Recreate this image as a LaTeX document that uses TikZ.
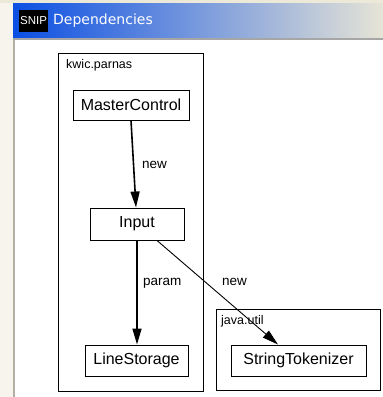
\documentclass[tikz,border=0pt]{standalone}
\usepackage{fontspec}
\setmainfont{Liberation Sans}
\newfontfamily\titlefont{DejaVu Sans}
\usetikzlibrary{arrows.meta}
\definecolor{xpbeige}{HTML}{ECE9D8}
\definecolor{xpgray}{HTML}{B3B0A3}
\definecolor{tbleft}{HTML}{0B4FE3}
\definecolor{tbmid}{HTML}{4C9CFB}
\definecolor{tbright}{HTML}{E6E4D6}
\tikzset{
  classbox/.style={draw=black, line width=1pt, inner sep=0pt, font=\fontsize{16}{19}\selectfont},
  cluster/.style={draw=black, line width=1pt, inner sep=0pt},
  clusterlabel/.style={anchor=west, inner sep=0pt, font=\fontsize{12.5}{15}\selectfont},
  edgelabel/.style={anchor=west, inner sep=0pt, font=\fontsize{13.5}{16}\selectfont},
  dep/.style={draw=black, line width=1.6pt, -{Triangle[length=16pt,width=9pt]}},
  depthin/.style={draw=black, line width=0.9pt, -{Triangle[length=16pt,width=9pt]}}
}
\begin{document}
\begin{tikzpicture}[x=1pt,y=-1pt]
\useasboundingbox (0,0) rectangle (383,397);
% window background
\fill[white] (0,0) rectangle (383,397);
\fill[xpbeige] (0,0) rectangle (383,3);
\fill[white!50!xpbeige] (0,3) rectangle (13,397);
\fill[xpgray] (13,38) rectangle (15,397);
% title bar
\shade[left color=tbleft, middle color=tbmid, right color=tbright] (13,3) rectangle (383,38);
\fill[gray!70] (13,38) rectangle (383,39.5);
\node[fill=black, text=white, minimum width=29pt, minimum height=22pt, inner sep=0pt,
      font=\fontsize{11.5}{13}\selectfont] (snip) at (33.5,21) {SNIP};
\node[anchor=west, inner sep=0pt, text=white, font=\titlefont\fontsize{14}{17}\selectfont]
      (title) at (53,21) {Dependencies};
% clusters
\node[cluster, minimum width=144.5pt, minimum height=338pt] (kwic) at (130.75,222) {};
\node[clusterlabel] (kwiclbl) at (66,65) {kwic.parnas};
\node[cluster, minimum width=164pt, minimum height=81pt] (jutil) at (298,349.5) {};
\node[clusterlabel] (jutillbl) at (221,321) {java.util};
% classes
\node[classbox, minimum width=116pt, minimum height=30pt] (mc) at (131,105) {MasterControl};
\node[classbox, minimum width=94pt, minimum height=32pt] (in) at (137,224) {Input};
\node[classbox, minimum width=103pt, minimum height=31pt] (ls) at (136.5,360.5) {LineStorage};
\node[classbox, minimum width=135pt, minimum height=31pt] (st) at (298.5,360.5) {StringTokenizer};
% edges
\draw[dep] (mc.south) -- ([xshift=-1pt]in.north);
\node[edgelabel] (l1) at (142,165) {new};
\draw[dep] (in.south) -- ([xshift=0.5pt]ls.north);
\node[edgelabel] (l2) at (143,283) {param};
\draw[depthin] ([xshift=20pt]in.south) -- ([xshift=-20.5pt]st.north);
\node[edgelabel] (l3) at (222,282) {new};
\end{tikzpicture}
\end{document}
